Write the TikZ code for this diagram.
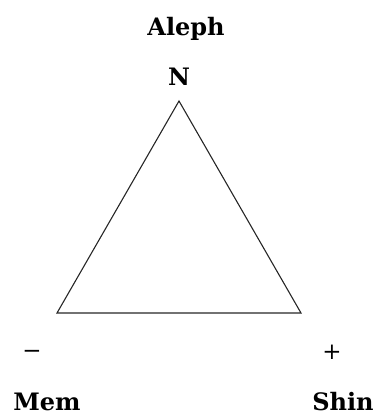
\documentclass[tikz,border=0pt]{standalone}
\usepackage{fontspec}
\setmainfont{DejaVu Serif}
\begin{document}
\begin{tikzpicture}[x=1pt,y=-1pt,
  lbl/.style={font=\fontsize{24}{27}\selectfont\bfseries, anchor=base, inner sep=0pt},
  sgn/.style={font=\fontsize{23}{26}\selectfont, anchor=center, inner sep=0pt},
  edge/.style={draw=black!85, line width=1.1pt, line join=miter}]
\useasboundingbox (0,0) rectangle (375,415);
\coordinate (top) at (179,101);
\coordinate (bl) at (57,313);
\coordinate (br) at (301,313);
\draw[edge] (top) -- (bl) -- (br) -- cycle;
\node[lbl] (aleph) at (186,35) {Aleph};
\node[lbl] (n) at (179,85) {N};
\node[sgn] (minus) at (32,354) {−};
\node[sgn] (plus) at (332,352) {+};
\node[lbl] (mem) at (47,410) {Mem};
\node[lbl] (shin) at (343,410) {Shin};
\end{tikzpicture}
\end{document}
